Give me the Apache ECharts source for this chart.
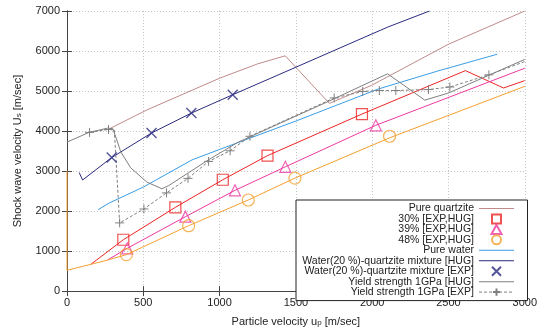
<!DOCTYPE html>
<html><head><meta charset="utf-8">
<script src="https://cdn.jsdelivr.net/npm/echarts@6/dist/echarts.min.js"></script>
<style>html,body{margin:0;padding:0;background:#fff}#c{width:540px;height:332px}</style>
</head><body><div id="c"></div>
<script>
// ---- data ----
const xTicks = [0, 500, 1000, 1500, 2000, 2500, 3000];
const yTicks = [0, 1000, 2000, 3000, 4000, 5000, 6000, 7000];

const quartzX = [280, 525, 1000, 1250, 1430, 1720, 2000, 2500, 3000];
const quartzY = [4060, 4530, 5320, 5680, 5880, 4690, 5150, 6170, 7000];

const red30X = [156, 369, 710, 1021, 1314, 1933, 2611, 2861, 3000];
const red30Y = [668, 1283, 2093, 2783, 3386, 4424, 5510, 5076, 5260];
const red30MX = [369, 710, 1021, 1314, 1933];
const red30MY = [1283, 2093, 2783, 3386, 4424];

const pink39X = [265, 395, 776, 1101, 1431, 2024, 3000];
const pink39Y = [775, 1069, 1859, 2518, 3106, 4144, 5570];
const pink39MX = [395, 776, 1101, 1431, 2024];
const pink39MY = [1069, 1859, 2518, 3106, 4144];

const or48X = [0, 0, 156, 265, 389, 797, 1188, 1494, 2114, 3000];
const or48Y = [3000, 520, 668, 775, 910, 1634, 2277, 2824, 3830, 5117];
const or48MX = [389, 797, 1188, 1494, 2114];
const or48MY = [910, 1634, 2277, 2824, 3870];

const waterX = [204, 276, 500, 820, 1000, 1500, 2040, 2430, 2820];
const waterY = [2035, 2200, 2600, 3280, 3540, 4250, 5050, 5500, 5920];

const mixHugX = [80, 102, 293, 554, 815, 1086, 1384, 2101, 2376];
const mixHugY = [2962, 2776, 3338, 3951, 4449, 4907, 5402, 6597, 7000];
const mixExpX = [293, 554, 815, 1086];
const mixExpY = [3338, 3951, 4449, 4907];

const ysHugX = [0, 145, 265, 300, 320, 352, 417, 525, 623, 667, 928, 1123, 1731, 2101, 2345, 2500, 3000];
const ysHugY = [3724, 3966, 4072, 4060, 3850, 3483, 3082, 2720, 2558, 2638, 3283, 3724, 4772, 5431, 4772, 4950, 5790];

const ysExpX = [148, 272, 310, 345, 504, 652, 793, 928, 1069, 1199, 1751, 1938, 2047, 2155, 2369, 2509, 2765, 3000];
const ysExpY = [3966, 4040, 4030, 1705, 2052, 2455, 2817, 3241, 3507, 3869, 4827, 4989, 5013, 5013, 5037, 5100, 5405, 5737];
const ysExpMarked = [1, 1, 0, 1, 1, 1, 1, 1, 1, 1, 1, 1, 1, 1, 1, 1, 1, 0];

const names = ['Pure quartzite', '30% [EXP,HUG]', '39% [EXP,HUG]', '48% [EXP,HUG]', 'Pure water',
  'Water(20 %)-quartzite mixture [HUG]', 'Water(20 %)-quartzite mixture [EXP]',
  'Yield strength 1GPa [HUG]', 'Yield strength 1GPa [EXP]'];

// ---- build ----
const zip = (xs, ys) => xs.map((x, i) => [x, ys[i]]);
const FONT = 'Liberation Sans, Arial, sans-serif';
const C = {quartz: '#c08a8a', red: '#ee2424', pink: '#ee3aa0', orange: '#f4a030', water: '#3a9ee6', navy: '#2b2b80', gray: '#808080'};
const PLUS = 'path://M5,0L5,10M0,5L10,5';
const CROSS = 'path://M0,0L10,10M10,0L0,10';
const SQUARE = 'path://M0,0L10,0L10,10L0,10Z';
const TRI = 'path://M5,0L10,9L0,9Z';
const CIRC = 'path://M10,5A5,5 0 1,1 0,5A5,5 0 1,1 10,5Z';
const LINEICON = 'path://M0,0L35,0L35,1L0,1Z';

function lineS(name, data, color, extra) {
  return Object.assign({type: 'line', name, data, symbol: 'none', silent: true, animation: false,
    lineStyle: {color, width: 1}, itemStyle: {color}}, extra || {});
}
function markS(name, data, color, symbol, size) {
  return {type: 'scatter', name, data, symbol, symbolSize: size, animation: false, silent: true, z: 5,
    itemStyle: {color: 'rgba(0,0,0,0)', borderColor: color, borderWidth: 1.2}};
}

const series = [
  lineS('Pure quartzite', zip(quartzX, quartzY), C.quartz),
  lineS('30 line', zip(red30X, red30Y), C.red),
  lineS('39 line', zip(pink39X, pink39Y), C.pink),
  lineS('48 line', zip(or48X, or48Y), C.orange, {z: 6}),
  lineS('Pure water', zip(waterX, waterY), C.water),
  lineS('Water(20 %)-quartzite mixture [HUG]', zip(mixHugX, mixHugY), C.navy),
  lineS('Yield strength 1GPa [HUG]', zip(ysHugX, ysHugY), C.gray),
  {type: 'line', name: 'Yield strength 1GPa [EXP]', animation: false, silent: true, z: 4,
    data: ysExpX.map((x, i) => ysExpMarked[i] ? [x, ysExpY[i]] : {value: [x, ysExpY[i]], symbol: 'none'}),
    symbol: PLUS, symbolSize: 9, showAllSymbol: true,
    lineStyle: {color: C.gray, width: 1, type: [3, 2]},
    itemStyle: {color: 'rgba(0,0,0,0)', borderColor: C.gray, borderWidth: 1}},
  markS('30% [EXP,HUG]', zip(red30MX, red30MY), C.red, SQUARE, 11),
  markS('39% [EXP,HUG]', zip(pink39MX, pink39MY), C.pink, TRI, 11),
  markS('48% [EXP,HUG]', zip(or48MX, or48MY), C.orange, CIRC, 12),
  Object.assign(markS('Water(20 %)-quartzite mixture [EXP]', zip(mixExpX, mixExpY), C.navy, CROSS, 10),
    {itemStyle: {color: 'rgba(0,0,0,0)', borderColor: C.navy, borderWidth: 1.4}})
];

const legendIcons = [LINEICON, SQUARE, TRI, CIRC, LINEICON, LINEICON, CROSS, LINEICON, null];

const axisCommon = {
  axisLine: {show: true, lineStyle: {color: '#444', width: 1}},
  axisTick: {show: true, inside: true, length: 5, lineStyle: {color: '#444'}},
  splitLine: {show: false}
};
const labelStyle = {fontFamily: FONT, fontSize: 11, color: '#222', formatter: v => String(v)};
const subRich = {sub: {fontSize: 8, verticalAlign: 'bottom', lineHeight: 8, padding: [6, 0, 0, 0]}};

const chart = echarts.init(document.getElementById('c'), null, {renderer: 'canvas'});
chart.setOption({
  animation: false,
  backgroundColor: '#fff',
  grid: {left: 67, right: 12, top: 11, bottom: 31, containLabel: false},
  xAxis: [
    Object.assign({}, axisCommon, {type: 'value', min: xTicks[0], max: xTicks[xTicks.length - 1], interval: 500,
      name: 'Particle velocity u{sub|p} [m/sec]', nameLocation: 'middle', nameGap: 16,
      nameTextStyle: {fontFamily: FONT, fontSize: 11, color: '#222', rich: subRich},
      axisLabel: Object.assign({margin: 6}, labelStyle),
      splitLine: {show: true, lineStyle: {color: '#c4c4c4', type: [1, 2], width: 1}}}),
    Object.assign({}, axisCommon, {type: 'value', position: 'top', min: 0, max: 3000, interval: 500,
      axisLabel: {show: false}})
  ],
  yAxis: [
    Object.assign({}, axisCommon, {type: 'value', min: yTicks[0], max: yTicks[yTicks.length - 1], interval: 1000,
      name: 'Shock wave velocity U{sub|s} [m/sec]', nameLocation: 'middle', nameGap: 44,
      nameTextStyle: {fontFamily: FONT, fontSize: 11, color: '#222', rich: subRich},
      axisLabel: Object.assign({margin: 7}, labelStyle),
      splitLine: {show: true, lineStyle: {color: '#c4c4c4', type: [1, 2], width: 1}}}),
    Object.assign({}, axisCommon, {type: 'value', position: 'right', min: 0, max: 7000, interval: 1000,
      axisLabel: {show: false}})
  ],
  legend: {
    data: names.map((n, i) => legendIcons[i] ? {name: n, icon: legendIcons[i]} : {name: n}),
    selectedMode: false, orient: 'vertical', left: 296, top: 200, align: 'right',
    itemWidth: 35, itemHeight: 9, itemGap: -0.55, padding: [3, 13, 3, 5], symbolKeepAspect: true,
    borderColor: '#222', borderWidth: 1, backgroundColor: '#fff',
    lineStyle: {width: 1},
    textStyle: {fontFamily: FONT, fontSize: 10.5, lineHeight: 9, color: '#222', width: 173, align: 'right', overflow: 'none'}
  },
  series
});
</script></body></html>
